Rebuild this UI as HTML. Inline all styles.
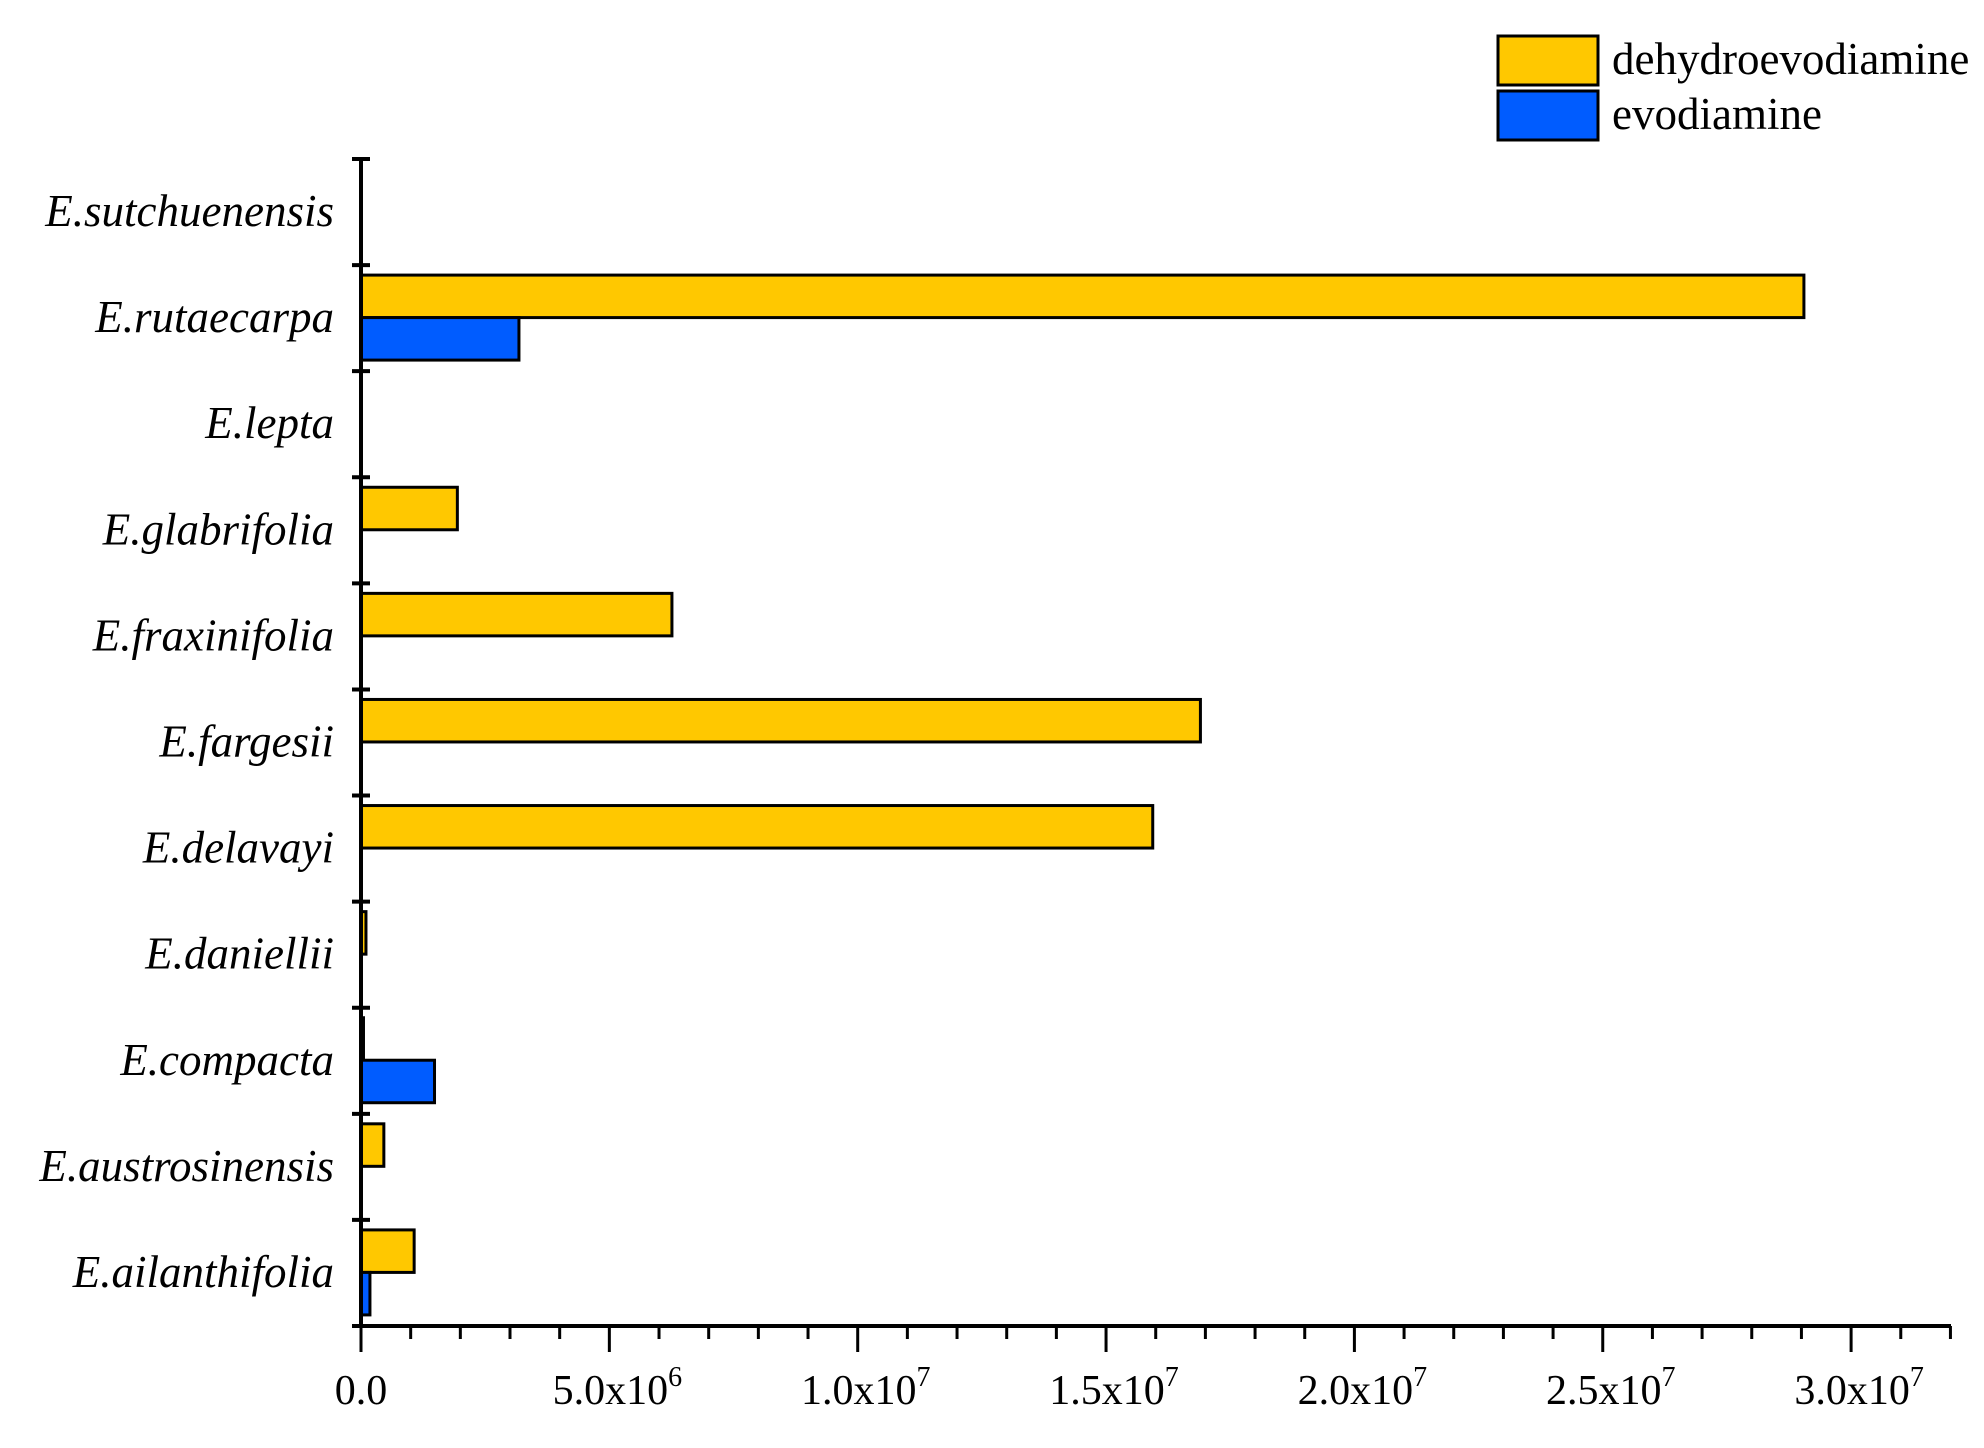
<!DOCTYPE html>
<html><head><meta charset="utf-8"><style>
body{margin:0;background:#fff}
svg{display:block;font-family:"Liberation Serif",serif}
</style></head><body>
<svg id="chart" width="1984" height="1448" viewBox="0 0 1984 1448" xmlns="http://www.w3.org/2000/svg">
<g id="marks"></g>
<g id="axes"></g>
<g>
<rect x="1498" y="36" width="100" height="49" fill="#FFC800" stroke="#000" stroke-width="3"/>
<text x="1612" y="74" font-size="45">dehydroevodiamine</text>
<rect x="1498" y="91" width="100" height="49" fill="#005CFF" stroke="#000" stroke-width="3"/>
<text x="1612" y="129" font-size="45">evodiamine</text>
</g>
</svg>
<script>
const categories=["E.ailanthifolia","E.austrosinensis","E.compacta","E.daniellii","E.delavayi","E.fargesii","E.fraxinifolia","E.glabrifolia","E.lepta","E.rutaecarpa","E.sutchuenensis"];
const dehydroevodiamine=[1.07e6,0.46e6,0.05e6,0.1e6,15.94e6,16.9e6,6.26e6,1.94e6,0,29.05e6,0];
const evodiamine=[0.18e6,0,1.48e6,0,0,0,0,0,0,3.18e6,0];
const xTicks=[0,5e6,1e7,1.5e7,2e7,2.5e7,3e7];
const xTickMant=["0.0","5.0x10","1.0x10","1.5x10","2.0x10","2.5x10","3.0x10"];
const xTickExp=["","6","7","7","7","7","7"];
const NS="http://www.w3.org/2000/svg";
const X0=361,XPER=49.67/1e6,YBOT=1326,YTOP=159;
const band=(YBOT-YTOP)/categories.length;
const x=v=>X0+v*XPER;
const yBand=i=>YBOT-(i+1)*band;
function mk(tag,attrs,parent){const e=document.createElementNS(NS,tag);for(const k in attrs)e.setAttribute(k,attrs[k]);parent.appendChild(e);return e;}
const marks=document.getElementById('marks'),axes=document.getElementById('axes');
const bh=42.5;
categories.forEach((c,i)=>{
  const top=yBand(i)+10;
  if(dehydroevodiamine[i]>0){
    const r=mk('rect',{x:X0,y:top,width:dehydroevodiamine[i]*XPER,height:bh,fill:'#FFC800',stroke:'#000','stroke-width':3},marks);
    
    
  }
  if(evodiamine[i]>0){
    const r=mk('rect',{x:X0,y:top+bh,width:evodiamine[i]*XPER,height:bh,fill:'#005CFF',stroke:'#000','stroke-width':3},marks);
    
    
  }
  const t=mk('text',{x:334,y:yBand(i)+band/2+14,'font-size':45,'font-style':'italic','text-anchor':'end'},axes);
  t.textContent=c;
  
  
});
const ya=mk('line',{x1:X0,y1:YTOP,x2:X0,y2:YBOT+2,stroke:'#000','stroke-width':4},axes);


for(let i=0;i<=categories.length;i++){
  const yy=YBOT-i*band;
  const tk=mk('line',{x1:X0-9,y1:yy,x2:X0+9,y2:yy,stroke:'#000','stroke-width':4},axes);
  
  
}
const xa=mk('line',{x1:X0-3,y1:YBOT,x2:1951,y2:YBOT,stroke:'#000','stroke-width':4},axes);


for(let v=0;v<=32e6;v+=1e6){
  const major=(v%5e6)===0;
  const tk=mk('line',{x1:x(v),y1:YBOT,x2:x(v),y2:YBOT+(major?26:13),stroke:'#000','stroke-width':3},axes);
  
  
}
xTicks.forEach((v,i)=>{
  const t=mk('text',{x:x(v)+(i===0?0:8),y:1404,'font-size':42,'text-anchor':'middle'},axes);
  
  
  t.appendChild(document.createTextNode(xTickMant[i]));
  if(xTickExp[i]){const s=mk('tspan',{dy:-18,'font-size':28},t);s.textContent=xTickExp[i];}
});
</script>
</body></html>
